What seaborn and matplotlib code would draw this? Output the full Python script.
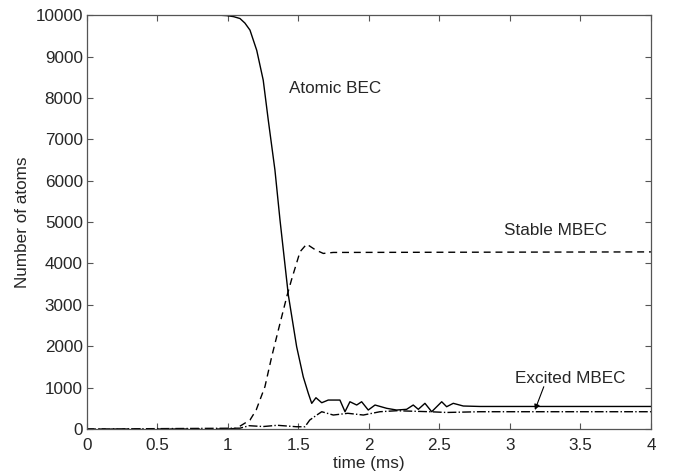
import matplotlib
matplotlib.use("Agg")
import matplotlib.pyplot as plt
import numpy as np
import pandas as pd
import seaborn as sns

# Atomic BEC (solid)
t_atomic = [0, 0.94, 0.99, 1.04, 1.085, 1.12, 1.156, 1.204, 1.25, 1.286, 1.333, 1.369, 1.428,
            1.487, 1.534, 1.57, 1.594, 1.624, 1.665, 1.711, 1.794, 1.830, 1.865,
            1.913, 1.948, 1.995, 2.043, 2.126, 2.196, 2.267, 2.314, 2.350, 2.397,
            2.445, 2.516, 2.551, 2.598, 2.669, 2.787, 4.0]
n_atomic = [10000, 10000, 9990, 9965, 9920, 9810, 9640, 9150, 8430, 7460, 6260, 5050, 3240,
            1990, 1260, 860, 620, 756, 635, 700, 700, 418, 659,
            580, 659, 459, 580, 500, 459, 476, 580, 476, 621,
            418, 659, 539, 621, 556, 545, 545]

# Stable MBEC (dashed)
t_stable = [0, 1.0, 1.06, 1.156, 1.2, 1.262, 1.31, 1.369, 1.42, 1.45, 1.511,
            1.558, 1.62, 1.676, 1.747, 4.0]
n_stable = [0, 0, 17, 217, 459, 1022, 1746, 2553, 3237, 3600, 4283,
            4469, 4330, 4243, 4267, 4280]

# Excited MBEC (dash-dot)
t_excited = [0, 1.085, 1.15, 1.25, 1.35, 1.487, 1.546, 1.58, 1.63, 1.665, 1.747,
             1.85, 1.96, 2.078, 2.196, 2.43, 2.55, 2.787, 4.0]
n_excited = [0, 20, 80, 60, 90, 55, 55, 217, 338, 418, 338,
             380, 338, 418, 442, 418, 400, 418, 418]

x_ticks = [0, 0.5, 1, 1.5, 2, 2.5, 3, 3.5, 4]
x_ticklabels = ["0", "0.5", "1", "1.5", "2", "2.5", "3", "3.5", "4"]
y_ticks = list(range(0, 10001, 1000))

sns.set_style("ticks")
plt.rcParams["font.family"] = ["Liberation Sans", "DejaVu Sans"]
fs = 12.3

fig = plt.figure(figsize=(6.77, 4.75), dpi=100)
ax = fig.add_axes([0.1285, 0.0968, 0.833, 0.8712])

sns.lineplot(x=t_atomic, y=n_atomic, ax=ax, color="black", lw=1, linestyle="-")
sns.lineplot(x=t_stable, y=n_stable, ax=ax, color="black", lw=1
             ).lines[-1].set_dashes((5, 3.5))
sns.lineplot(x=t_excited, y=n_excited, ax=ax, color="black", lw=1, linestyle="-.")

ax.set_xlim(0, 4)
ax.set_ylim(0, 10000)
ax.set_xticks(x_ticks)
ax.set_xticklabels(x_ticklabels)
ax.set_yticks(y_ticks)
ax.tick_params(direction="in", top=True, right=True, length=4, width=0.8,
               color="#555555", labelsize=fs, pad=3)
ax.tick_params(axis="x", pad=6.5)
for s in ax.spines.values():
    s.set_color("#555555")
    s.set_linewidth(0.9)

ax.set_xlabel("time (ms)", fontsize=fs, labelpad=2)
ax.set_ylabel("Number of atoms", fontsize=fs, labelpad=4)

ax.text(1.76, 8237, "Atomic BEC", ha="center", va="center", fontsize=fs)
ax.text(3.32, 4807, "Stable MBEC", ha="center", va="center", fontsize=fs)
ax.text(3.43, 1232, "Excited MBEC", ha="center", va="center", fontsize=fs)
ax.annotate("", xy=(3.177, 459), xytext=(3.24, 1022),
            arrowprops=dict(arrowstyle="-|>", color="black", lw=0.8,
                            mutation_scale=8, shrinkA=0, shrinkB=0))

fig.savefig("out.png", dpi=100)
